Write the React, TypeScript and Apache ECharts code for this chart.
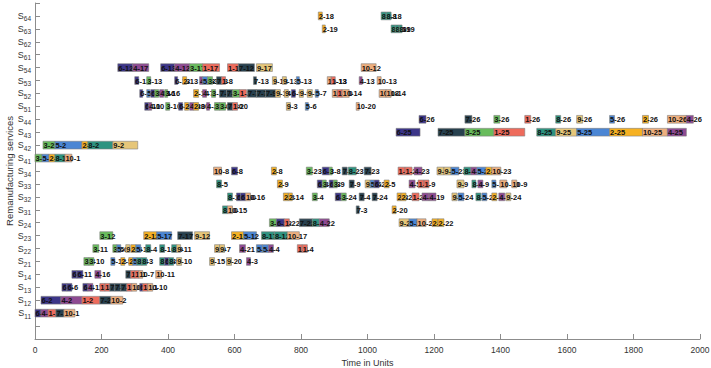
import React, { useEffect, useRef } from "react";
import * as echarts from "echarts";

type Task = [number, number, string];

// y tick labels, placed at axis values 2..25
const serviceLabels = [
  "S11", "S12", "S13", "S14", "S21", "S22", "S23", "S24",
  "S31", "S32", "S33", "S34", "S41", "S42", "S43", "S44",
  "S51", "S52", "S53", "S54", "S61", "S62", "S63", "S64",
];

const xTicks = [0, 200, 400, 600, 800, 1000, 1200, 1400, 1600, 1800, 2000];

const S11: Task[] = [[0, 18, "6-1"], [18, 39, "4-1"], [39, 63, "1-1"], [63, 87, "7-1"], [87, 120, "10-1"]];
const S12: Task[] = [[18, 78, "6-2"], [78, 141, "4-2"], [141, 195, "1-2"], [195, 228, "7-2"], [228, 264, "10-2"]];
const S13: Task[] = [
  [81, 96, "6-6"], [96, 111, "6-6"], [144, 159, "6-4"], [159, 174, "4-11"], [195, 210, "1-1"],
  [210, 225, "1-7"], [225, 240, "7-7"], [240, 258, "7-7"], [258, 276, "7-11"], [276, 291, "1-10"],
  [291, 306, "10-6"], [315, 324, "6-8"], [324, 339, "1-11"], [339, 354, "10-10"],
];
const S14: Task[] = [
  [111, 126, "6-6"], [126, 144, "6-11"], [180, 198, "4-16"], [273, 288, "7-1"], [288, 300, "1-1"],
  [300, 312, "1-1"], [312, 324, "10-7"], [363, 381, "10-11"],
];
const S21: Task[] = [
  [147, 162, "3-3"], [162, 177, "3-10"], [228, 240, "5-12"], [258, 270, "2-5"], [282, 294, "2-5"],
  [294, 306, "5-8"], [306, 321, "8-8"], [321, 336, "8-3"], [375, 390, "8-9"], [390, 402, "6-8"],
  [402, 417, "8-9"], [426, 441, "9-10"], [525, 540, "9-15"], [576, 591, "9-20"], [636, 648, "4-3"],
];
const S22: Task[] = [
  [174, 192, "3-11"], [234, 246, "3-5"], [246, 258, "5-6"], [273, 285, "9-7"], [288, 303, "2-5"],
  [303, 318, "5-16"], [333, 348, "8-4"], [375, 390, "8-16"], [411, 426, "8-9"], [426, 438, "9-11"],
  [540, 555, "9-9"], [555, 570, "9-7"], [615, 633, "4-21"], [666, 684, "5-5"], [684, 702, "5-4"],
  [702, 717, "4-4"], [789, 804, "1-1"], [804, 819, "1-4"],
];
const S23: Task[] = [
  [195, 234, "3-12"], [327, 366, "2-12"], [366, 411, "5-17"], [429, 474, "7-17"], [480, 525, "9-12"],
  [591, 627, "2-17"], [627, 666, "5-12"], [681, 720, "8-17"], [720, 759, "8-12"], [759, 795, "10-17"],
];
const S24: Task[] = [
  [705, 726, "3-22"], [726, 750, "6-22"], [750, 765, "1-22"], [795, 834, "7-22"], [834, 855, "8-22"],
  [855, 885, "4-22"], [1095, 1125, "9-2"], [1125, 1149, "5-2"], [1149, 1176, "10-2"], [1194, 1212, "2-2"],
  [1212, 1230, "2-22"],
];
const S31: Task[] = [[564, 579, "8-10"], [579, 594, "10-15"], [966, 975, "7-3"], [1074, 1086, "2-20"]];
const S32: Task[] = [
  [579, 594, "8-16"], [606, 618, "6-16"], [618, 633, "6-10"], [633, 648, "10-16"], [747, 762, "2-2"],
  [762, 774, "2-14"], [834, 849, "3-4"], [903, 921, "6-3"], [921, 936, "3-24"], [975, 990, "7-4"],
  [1014, 1029, "7-24"], [1089, 1101, "2-2"], [1101, 1116, "2-21"], [1134, 1155, "1-2"], [1164, 1185, "4-4"],
  [1185, 1206, "4-19"], [1254, 1269, "9-5"], [1272, 1290, "5-24"], [1326, 1341, "8-1"], [1344, 1359, "5-2"],
  [1374, 1389, "2-4"], [1395, 1413, "4-1"], [1416, 1431, "9-24"],
];
const S33: Task[] = [
  [546, 561, "8-5"], [729, 744, "2-9"], [849, 864, "6-3"], [864, 876, "3-6"], [885, 897, "6-3"],
  [897, 909, "3-9"], [945, 960, "7-9"], [993, 1008, "9-5"], [1008, 1020, "5-6"], [1020, 1035, "6-2"],
  [1050, 1065, "2-5"], [1125, 1143, "4-5"], [1152, 1170, "1-1"], [1170, 1185, "1-9"], [1269, 1290, "9-9"],
  [1314, 1326, "8-4"], [1332, 1347, "4-9"], [1374, 1386, "5-10"], [1398, 1419, "10-10"], [1434, 1449, "10-9"],
];
const S34: Task[] = [
  [537, 561, "10-8"], [591, 609, "6-8"], [711, 726, "2-8"], [816, 834, "3-23"], [864, 885, "6-3"],
  [885, 894, "3-8"], [924, 939, "7-3"], [942, 966, "8-23"], [990, 1011, "7-23"], [1092, 1113, "1-1"],
  [1113, 1134, "1-23"], [1140, 1164, "4-23"], [1209, 1230, "9-9"], [1230, 1251, "9-5"], [1251, 1275, "5-23"],
  [1290, 1311, "8-4"], [1311, 1329, "4-5"], [1329, 1356, "5-2"], [1356, 1374, "2-10"], [1374, 1401, "10-23"],
];
const S41: Task[] = [[0, 21, "3-1"], [21, 42, "5-1"], [42, 60, "2-1"], [60, 90, "8-1"], [90, 111, "10-1"]];
const S42: Task[] = [[24, 60, "3-2"], [60, 141, "5-2"], [141, 159, "2-2"], [159, 234, "8-2"], [234, 309, "9-2"]];
const S43: Task[] = [
  [1086, 1158, "6-25"], [1212, 1293, "7-25"], [1293, 1380, "3-25"], [1380, 1473, "1-25"], [1509, 1566, "8-25"],
  [1566, 1629, "9-25"], [1629, 1728, "5-25"], [1728, 1827, "2-25"], [1827, 1902, "10-25"], [1902, 1959, "4-25"],
];
const S44: Task[] = [
  [1155, 1176, "6-26"], [1293, 1314, "7-26"], [1380, 1398, "3-26"], [1473, 1491, "1-26"], [1566, 1581, "8-26"],
  [1629, 1647, "9-26"], [1728, 1743, "5-26"], [1827, 1845, "2-26"], [1902, 1959, "10-26"], [1959, 1980, "4-26"],
];
const S51: Task[] = [
  [330, 342, "6-10"], [342, 351, "4-10"], [393, 405, "3-10"], [432, 444, "6-20"], [450, 462, "2-20"],
  [465, 477, "4-20"], [477, 492, "2-30"], [516, 525, "4-23"], [540, 555, "3-20"], [555, 573, "3-20"],
  [579, 594, "7-20"], [594, 609, "1-20"], [756, 768, "9-3"], [813, 822, "5-6"], [966, 975, "10-20"],
];
const S52: Task[] = [
  [315, 324, "6-16"], [336, 345, "5-16"], [348, 360, "6-16"], [360, 372, "3-16"], [375, 387, "4-16"],
  [390, 399, "3-16"], [477, 492, "2-14"], [504, 516, "4-7"], [531, 543, "3-19"], [555, 576, "7-3"],
  [576, 594, "7-3"], [594, 615, "3-2"], [615, 636, "1-2"], [639, 666, "7-7"], [666, 693, "7-7"],
  [693, 723, "7-9"], [723, 738, "9-14"], [750, 762, "9-6"], [771, 783, "6-9"], [795, 807, "9-9"],
  [819, 834, "9-5"], [843, 852, "5-7"], [894, 909, "10-11"], [909, 924, "1-10"], [924, 945, "10-14"],
  [1035, 1056, "10-18"], [1056, 1071, "10-14"],
];
const S53: Task[] = [
  [300, 312, "6-13"], [336, 348, "3-13"], [420, 429, "6-13"], [444, 456, "2-13"], [495, 504, "4-13"],
  [504, 519, "5-13"], [519, 534, "3-13"], [546, 561, "7-8"], [561, 573, "1-8"], [657, 666, "7-13"],
  [714, 726, "9-13"], [744, 756, "9-13"], [786, 795, "5-13"], [879, 891, "10-13"], [891, 903, "1-13"],
  [975, 984, "4-13"], [1029, 1041, "10-13"],
];
const S54: Task[] = [
  [249, 294, "6-12"], [294, 342, "4-17"], [378, 420, "6-13"], [420, 465, "4-12"], [465, 504, "3-17"],
  [504, 555, "1-17"], [579, 612, "1-12"], [612, 660, "7-12"], [666, 714, "9-17"], [981, 1026, "10-12"],
];
const S61: Task[] = [];
const S62: Task[] = [];
const S63: Task[] = [[864, 873, "2-19"], [1071, 1083, "8-19"], [1083, 1095, "8-19"], [1095, 1104, "8-19"]];
const S64: Task[] = [[852, 864, "2-18"], [1041, 1056, "8-18"], [1056, 1071, "8-18"]];

const schedule = [S11, S12, S13, S14, S21, S22, S23, S24, S31, S32, S33, S34, S41, S42, S43, S44, S51, S52, S53, S54, S61, S62, S63, S64];

const jobColors: Record<number, string> = {
  1: "#EE6B5C",
  2: "#F6B122",
  3: "#68BC5C",
  4: "#8E4A92",
  5: "#4B86D4",
  6: "#3C3588",
  7: "#28414F",
  8: "#2E9380",
  9: "#E6C679",
  10: "#EEAF7E",
};

const FONT = '"Liberation Sans", Arial, Helvetica, sans-serif';

export default function App() {
  const ref = useRef<HTMLDivElement>(null);
  useEffect(() => {
    if (!ref.current) return;
    const chart = echarts.init(ref.current, undefined, { renderer: "svg" });
    const items: { row: number; s: number; e: number; label: string; color: string }[] = [];
    schedule.forEach((tasks, i) => {
      tasks.forEach((t) => {
        const job = parseInt(t[2].split("-")[0], 10);
        items.push({ row: i + 2, s: t[0], e: t[1], label: t[2], color: jobColors[job] || "#999" });
      });
    });
    const data = items.map((it) => [it.row, it.s, it.e]);
    chart.setOption({
      animation: false,
      backgroundColor: "#ffffff",
      grid: { left: 35, right: 11, top: 3, bottom: 29, containLabel: false, outerBoundsMode: "none" },
      graphic: [
        {
          type: "text",
          x: 9,
          y: 171,
          rotation: Math.PI / 2,
          style: {
            text: "Remanufacturing services",
            fontFamily: FONT,
            fontSize: 9.5,
            fill: "#333",
            align: "center",
            verticalAlign: "middle",
          },
        },
      ],
      xAxis: {
        type: "value",
        min: xTicks[0],
        max: xTicks[xTicks.length - 1],
        interval: 200,
        name: "Time in Units",
        nameLocation: "middle",
        nameGap: 17,
        nameTextStyle: { fontFamily: FONT, fontSize: 9, color: "#333" },
        axisLine: { show: true, lineStyle: { color: "#8c8c8c", width: 1 } },
        axisTick: { show: true, inside: true, length: 5, lineStyle: { color: "#8c8c8c" } },
        axisLabel: { fontFamily: FONT, fontSize: 8.5, color: "#333", margin: 6, formatter: (v: number) => String(v) },
        splitLine: { show: false },
      },
      yAxis: {
        type: "value",
        min: 0,
        max: 26,
        interval: 1,
        axisLine: { show: true, lineStyle: { color: "#8c8c8c", width: 1 } },
        axisTick: { show: true, inside: true, length: 5, lineStyle: { color: "#8c8c8c" } },
        axisLabel: {
          margin: 4,
          formatter: (v: number) => {
            const lab = serviceLabels[v - 2];
            if (!lab) return "";
            return "{a|S}{b|" + lab.slice(1) + "}";
          },
          rich: {
            a: { fontFamily: FONT, fontSize: 9, color: "#333" },
            b: { fontFamily: FONT, fontSize: 6.5, color: "#333", padding: [6, 0, 0, 0] },
          },
        },
        splitLine: { show: false },
      },
      series: [
        {
          type: "custom",
          clip: false,
          data,
          encode: { x: [1, 2], y: 0 },
          renderItem: (params: any, api: any) => {
            const it = items[params.dataIndex];
            const row = api.value(0);
            const p0 = api.coord([api.value(1), row]);
            const p1 = api.coord([api.value(2), row]);
            const h = api.size([0, 1])[1] * 0.6;
            return {
              type: "group",
              children: [
                {
                  type: "rect",
                  shape: { x: p0[0], y: p0[1] - h / 2, width: Math.max(p1[0] - p0[0], 0.5), height: h },
                  style: { fill: it.color, stroke: "#808080", lineWidth: 0.6 },
                },
                {
                  type: "text",
                  x: p0[0] + 0.5,
                  y: p0[1] + 0.5,
                  style: {
                    text: it.label,
                    fill: "#111",
                    fontFamily: FONT,
                    fontSize: 7.5,
                    fontWeight: "bold",
                    align: "left",
                    verticalAlign: "middle",
                  },
                },
              ],
            };
          },
        },
      ],
    });
    return () => chart.dispose();
  }, []);
  return (
    <div
      ref={ref}
      style={{ position: "fixed", left: 0, top: 0, width: 711, height: 368, background: "#fff" }}
    />
  );
}
